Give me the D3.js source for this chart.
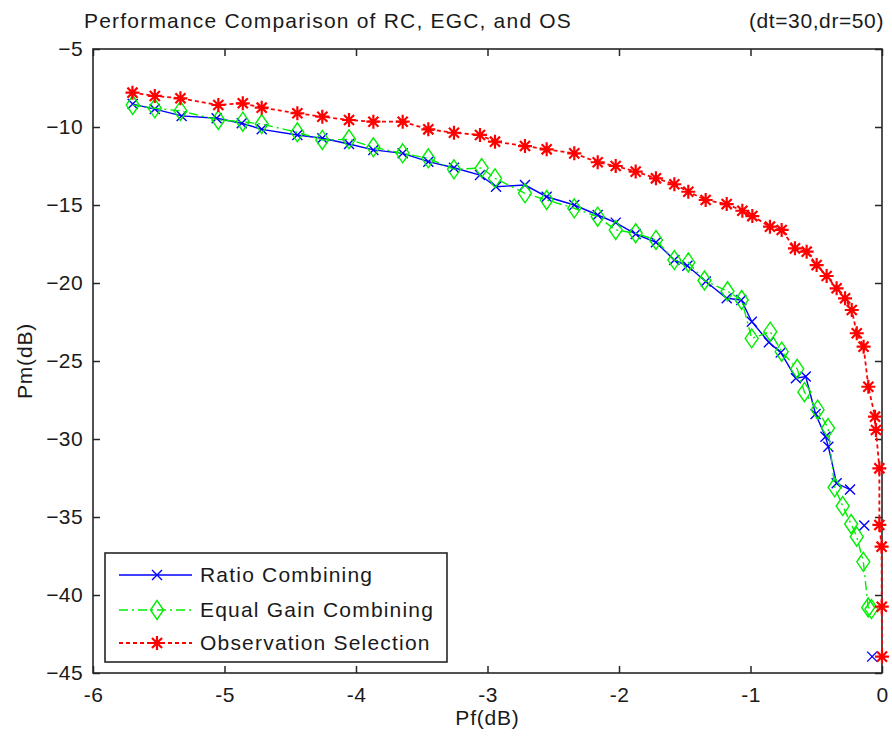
<!DOCTYPE html>
<html>
<head>
<meta charset="utf-8">
<script src="https://cdn.jsdelivr.net/npm/d3@7"></script>
<style>
  html, body { margin: 0; padding: 0; background: #fff; }
  svg { display: block; }
  text { font-family: "Liberation Sans", Arial, sans-serif; fill: #1a1a1a; }
</style>
</head>
<body>
<svg id="chart" width="892" height="743"></svg>
<script>
// Pf (dB) / Pm (dB) pairs for each combining scheme
const rcPf = [-5.698, -5.53, -5.326, -5.06, -4.869, -4.717, -4.446, -4.256, -4.053, -3.868, -3.645, -3.45, -3.255, -3.057, -2.935, -2.715, -2.55, -2.34, -2.162, -2.025, -1.873, -1.719, -1.579, -1.48, -1.34, -1.181, -1.07, -0.99, -0.86, -0.77, -0.655, -0.58, -0.505, -0.43, -0.408, -0.345, -0.243, null, -0.135, null, -0.075];
const rcPm = [-8.53, -8.85, -9.29, -9.44, -9.76, -10.15, -10.51, -10.72, -11.09, -11.47, -11.69, -12.22, -12.61, -13.08, -13.83, -13.72, -14.47, -15.0, -15.64, -16.13, -16.86, -17.39, -18.53, -18.9, -19.9, -20.98, -21.09, -22.48, -23.8, -24.45, -26.1, -26.0, -28.4, -29.85, -30.49, -32.84, -33.24, null, -35.55, null, -43.95];

const egcPf = [-5.698, -5.53, -5.335, -5.047, -4.861, -4.717, -4.446, -4.256, -4.053, -3.868, -3.645, -3.45, -3.255, -3.044, -2.943, -2.715, -2.55, -2.34, -2.162, -2.025, -1.873, -1.719, -1.579, -1.473, -1.35, -1.175, -1.067, -0.991, -0.85, -0.763, -0.645, -0.59, -0.49, -0.41, -0.36, -0.299, -0.235, -0.192, -0.142, -0.105, -0.08];
const egcPm = [-8.59, -8.80, -8.97, -9.55, -9.66, -9.81, -10.34, -10.83, -10.79, -11.30, -11.69, -12.01, -12.71, -12.63, -13.29, -14.25, -14.68, -15.21, -15.75, -16.6, -16.81, -17.24, -18.53, -18.68, -19.84, -20.53, -21.09, -23.55, -23.12, -24.4, -25.5, -27.0, -28.12, -29.3, -33.1, -34.3, -35.45, -36.26, -37.87, -40.8, -40.9];

const osPf = [-5.70, -5.53, -5.335, -5.047, -4.861, -4.717, -4.446, -4.256, -4.053, -3.868, -3.645, -3.45, -3.255, -3.057, -2.943, -2.715, -2.55, -2.34, -2.162, -2.025, -1.873, -1.719, -1.579, -1.473, -1.341, -1.181, -1.062, -0.986, -0.852, -0.763, -0.662, -0.573, -0.497, -0.421, -0.345, -0.281, -0.230, -0.192, -0.140, -0.104, -0.053, -0.046, -0.020, -0.020, -0.003, -0.002, 0];
const osPm = [-7.80, -8.01, -8.16, -8.59, -8.48, -8.76, -9.12, -9.34, -9.55, -9.66, -9.66, -10.15, -10.37, -10.51, -10.94, -11.22, -11.43, -11.69, -12.26, -12.5, -12.86, -13.29, -13.67, -14.15, -14.68, -14.94, -15.37, -15.71, -16.39, -16.60, -17.78, -17.99, -18.85, -19.55, -20.34, -20.98, -21.73, -23.22, -24.08, -26.65, -28.57, -29.42, -31.88, -35.51, -36.9, -40.75, -43.95];

const xTicks = [-6, -5, -4, -3, -2, -1, 0];
const yTicks = [-5, -10, -15, -20, -25, -30, -35, -40, -45];

const titleText = "Performance Comparison of RC, EGC, and OS";
const subtitleText = "(dt=30,dr=50)";
const xLabel = "Pf(dB)";
const yLabel = "Pm(dB)";
const seriesNames = ["Ratio Combining", "Equal Gain Combining", "Observation Selection"];

// ---- layout ----
const svg = d3.select("#chart");
const plot = { left: 93, top: 49, right: 882, bottom: 673 };
const x = d3.scaleLinear().domain([-6, 0]).range([plot.left, plot.right]);
const y = d3.scaleLinear().domain([-5, -45]).range([plot.top, plot.bottom]);
const FONT = 21;
const SPACING = "1.2px";
const axisColor = "#262626";

// ---- marker shapes ----
function crossPath(s) { // "x"
  return `M${-s},${-s}L${s},${s}M${-s},${s}L${s},${-s}`;
}
function starPath(s) { // "*" (plus + cross)
  const d = s * 0.72;
  return `M${-s},0L${s},0M0,${-s}L0,${s}M${-d},${-d}L${d},${d}M${-d},${d}L${d},${-d}`;
}
function diamondPath(w, h) {
  return `M0,${-h}L${w},0L0,${h}L${-w},0Z`;
}

const series = [
  { name: seriesNames[0], pf: rcPf, pm: rcPm, color: "#0000ff", dash: null, width: 1.4,
    marker: crossPath(5), markerFill: "none", markerWidth: 1.4 },
  { name: seriesNames[1], pf: egcPf, pm: egcPm, color: "#00ee00", dash: "9,4,2,4", width: 1.4,
    marker: diamondPath(6.5, 9.5), markerFill: "none", markerWidth: 1.4 },
  { name: seriesNames[2], pf: osPf, pm: osPm, color: "#ff0000", dash: "4,3", width: 1.8,
    marker: starPath(7), markerFill: "none", markerWidth: 2.2 }
];

// ---- axes (box with inward ticks on all sides) ----
const gx = svg.append("g").attr("transform", `translate(0,${plot.bottom})`)
  .call(d3.axisBottom(x).tickValues(xTicks).tickSize(-7).tickPadding(14).tickFormat(d3.format("d")));
const gxTop = svg.append("g").attr("transform", `translate(0,${plot.top})`)
  .call(d3.axisTop(x).tickValues(xTicks).tickSize(-7).tickFormat(""));
const gy = svg.append("g").attr("transform", `translate(${plot.left},0)`)
  .call(d3.axisLeft(y).tickValues(yTicks).tickSize(-7).tickPadding(10).tickFormat(d3.format("d")));
const gyRight = svg.append("g").attr("transform", `translate(${plot.right},0)`)
  .call(d3.axisRight(y).tickValues(yTicks).tickSize(-7).tickFormat(""));

[gx, gxTop, gy, gyRight].forEach(g => {
  g.select(".domain").remove();
  g.selectAll(".tick line").attr("stroke", axisColor).attr("stroke-width", 1.5);
  g.selectAll(".tick text").attr("font-size", FONT).attr("font-family", "Liberation Sans, Arial, sans-serif")
    .attr("fill", "#1a1a1a").attr("letter-spacing", "0.4px");
});
gx.selectAll(".tick text").text(d => d === 0 ? "0" : String(d));

svg.append("rect")
  .attr("x", plot.left).attr("y", plot.top)
  .attr("width", plot.right - plot.left).attr("height", plot.bottom - plot.top)
  .attr("fill", "none").attr("stroke", axisColor).attr("stroke-width", 1.6);

// ---- series ----
const dataLayer = svg.append("g");
series.forEach(s => {
  const pts = s.pf.map((v, i) => ({ pf: v, pm: s.pm[i] }));
  const line = d3.line()
    .defined(d => d.pf !== null && d.pm !== null)
    .x(d => x(d.pf)).y(d => y(d.pm));
  dataLayer.append("path")
    .datum(pts)
    .attr("d", line)
    .attr("fill", "none")
    .attr("stroke", s.color)
    .attr("stroke-width", s.width)
    .attr("stroke-dasharray", s.dash);
  dataLayer.append("g").selectAll("path")
    .data(pts.filter(d => d.pf !== null && d.pm !== null))
    .join("path")
    .attr("transform", d => `translate(${x(d.pf)},${y(d.pm)})`)
    .attr("d", s.marker)
    .attr("fill", s.markerFill)
    .attr("stroke", s.color)
    .attr("stroke-width", s.markerWidth);
});

// ---- titles and labels ----
svg.append("text").attr("x", 84).attr("y", 28).attr("font-size", FONT)
  .attr("letter-spacing", SPACING).text(titleText);
svg.append("text").attr("x", 884).attr("y", 28).attr("font-size", FONT)
  .attr("letter-spacing", "0.6px").attr("text-anchor", "end").text(subtitleText);
svg.append("text").attr("x", (plot.left + plot.right) / 2).attr("y", 725)
  .attr("font-size", FONT).attr("letter-spacing", "0.8px").attr("text-anchor", "middle").text(xLabel);
svg.append("text")
  .attr("transform", `translate(32,${(plot.top + plot.bottom) / 2}) rotate(-90)`)
  .attr("font-size", FONT).attr("letter-spacing", "0.8px").attr("text-anchor", "middle").text(yLabel);

// ---- legend ----
const legend = svg.append("g");
legend.append("rect")
  .attr("x", 105).attr("y", 553).attr("width", 342).attr("height", 109)
  .attr("fill", "#fff").attr("stroke", axisColor).attr("stroke-width", 1.6);
const rowY = [575, 610, 643];
series.forEach((s, i) => {
  const yy = rowY[i];
  legend.append("line")
    .attr("x1", 119).attr("x2", 192).attr("y1", yy).attr("y2", yy)
    .attr("stroke", s.color).attr("stroke-width", s.width)
    .attr("stroke-dasharray", s.dash);
  legend.append("path")
    .attr("transform", `translate(157,${yy})`)
    .attr("d", s.marker).attr("fill", s.markerFill)
    .attr("stroke", s.color).attr("stroke-width", s.markerWidth);
  legend.append("text")
    .attr("x", 200).attr("y", yy).attr("dy", "0.35em")
    .attr("font-size", FONT).attr("letter-spacing", SPACING).text(s.name);
});
</script>
</body>
</html>
